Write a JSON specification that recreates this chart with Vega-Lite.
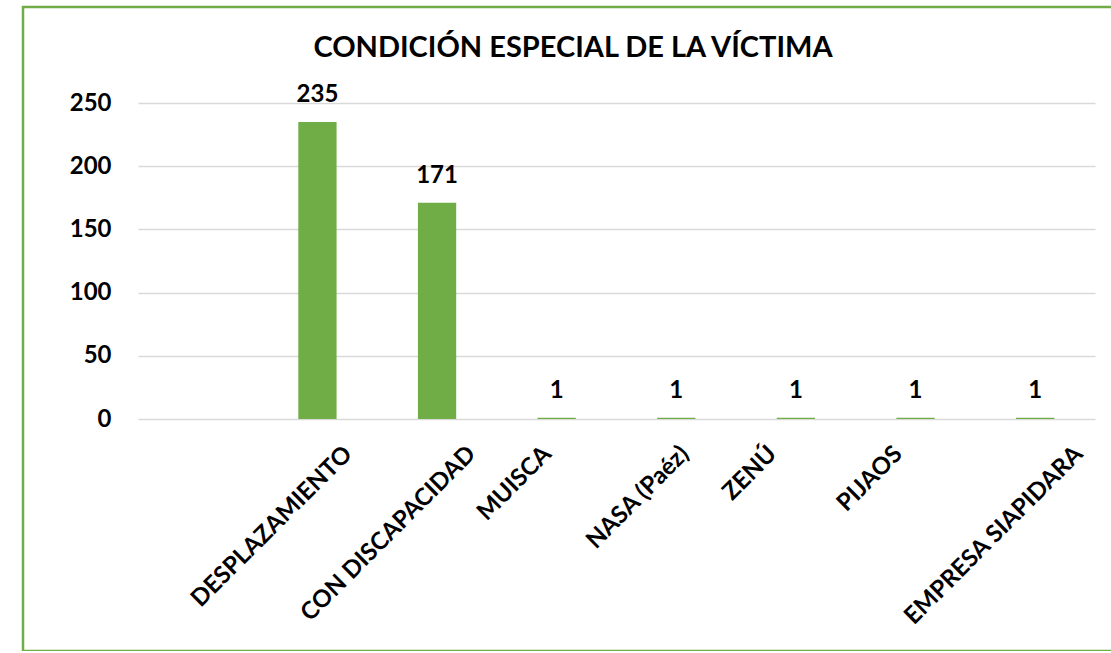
{
  "$schema": "https://vega.github.io/schema/vega-lite/v6.json",
  "width": 1100,
  "height": 644,
  "autosize": "none",
  "padding": {"left": 23, "top": 7, "right": 0, "bottom": 0},
  "background": "white",
  "title": {
    "text": "CONDICIÓN ESPECIAL DE LA VÍCTIMA",
    "font": "Lato",
    "fontSize": 29,
    "fontWeight": "bold",
    "color": "#000000",
    "anchor": "middle",
    "frame": "group",
    "baseline": "alphabetic",
    "offset": -79
  },
  "config": {
    "view": {"stroke": "#70AD47", "strokeWidth": 2.5},
    "font": "Lato"
  },
  "data": {
    "values": [
      {"categoria": "DESPLAZAMIENTO", "valor": 235},
      {"categoria": "CON DISCAPACIDAD", "valor": 171},
      {"categoria": "MUISCA", "valor": 1},
      {"categoria": "NASA (Paéz)", "valor": 1},
      {"categoria": "ZENÚ", "valor": 1},
      {"categoria": "PIJAOS", "valor": 1},
      {"categoria": "EMPRESA SIAPIDARA", "valor": 1}
    ]
  },
  "encoding": {
    "x": {
      "field": "categoria",
      "type": "nominal",
      "sort": null,
      "scale": {
        "domain": [" ", "DESPLAZAMIENTO", "CON DISCAPACIDAD", "MUISCA", "NASA (Paéz)", "ZENÚ", "PIJAOS", "EMPRESA SIAPIDARA"],
        "range": [115, 1072],
        "paddingInner": 0.68,
        "paddingOuter": 0.34
      },
      "axis": {
        "title": null,
        "orient": "bottom",
        "offset": -232,
        "domain": false,
        "ticks": false,
        "tickSize": 0,
        "labelAngle": -45,
        "labelAlign": "right",
        "labelBaseline": "middle",
        "labelPadding": 31,
        "labelOffset": {
          "condition": [
            {"test": "datum.value === 'DESPLAZAMIENTO'", "value": 31},
            {"test": "datum.value === 'CON DISCAPACIDAD'", "value": 35},
            {"test": "datum.value === 'MUISCA'", "value": -9},
            {"test": "datum.value === 'NASA (Paéz)'", "value": 9},
            {"test": "datum.value === 'ZENÚ'", "value": -23},
            {"test": "datum.value === 'PIJAOS'", "value": -17},
            {"test": "datum.value === 'EMPRESA SIAPIDARA'", "value": 44}
          ],
          "value": 0
        },
        "labelFont": "Lato",
        "labelFontSize": 24,
        "labelFontWeight": "bold",
        "labelColor": "#000000",
        "labelOverlap": false,
        "labelLimit": 400,
        "grid": false
      }
    },
    "y": {
      "field": "valor",
      "type": "quantitative",
      "scale": {"domain": [0, 250], "range": [412, 96], "nice": false, "zero": true},
      "axis": {
        "title": null,
        "orient": "left",
        "offset": -88,
        "values": [0, 50, 100, 150, 200, 250],
        "domain": false,
        "ticks": false,
        "tickSize": 0,
        "labelPadding": 0,
        "labelFont": "Lato",
        "labelFontSize": 24,
        "labelFontWeight": "bold",
        "labelColor": "#000000",
        "grid": true,
        "gridColor": "#d9d9d9",
        "gridWidth": 1.5
      }
    }
  },
  "layer": [
    {
      "mark": {"type": "bar", "color": "#70AD47"}
    },
    {
      "mark": {
        "type": "text",
        "baseline": "alphabetic",
        "dy": -20,
        "font": "Lato",
        "fontSize": 24,
        "fontWeight": "bold",
        "color": "#000000"
      },
      "encoding": {"text": {"field": "valor", "type": "quantitative"}}
    }
  ]
}
